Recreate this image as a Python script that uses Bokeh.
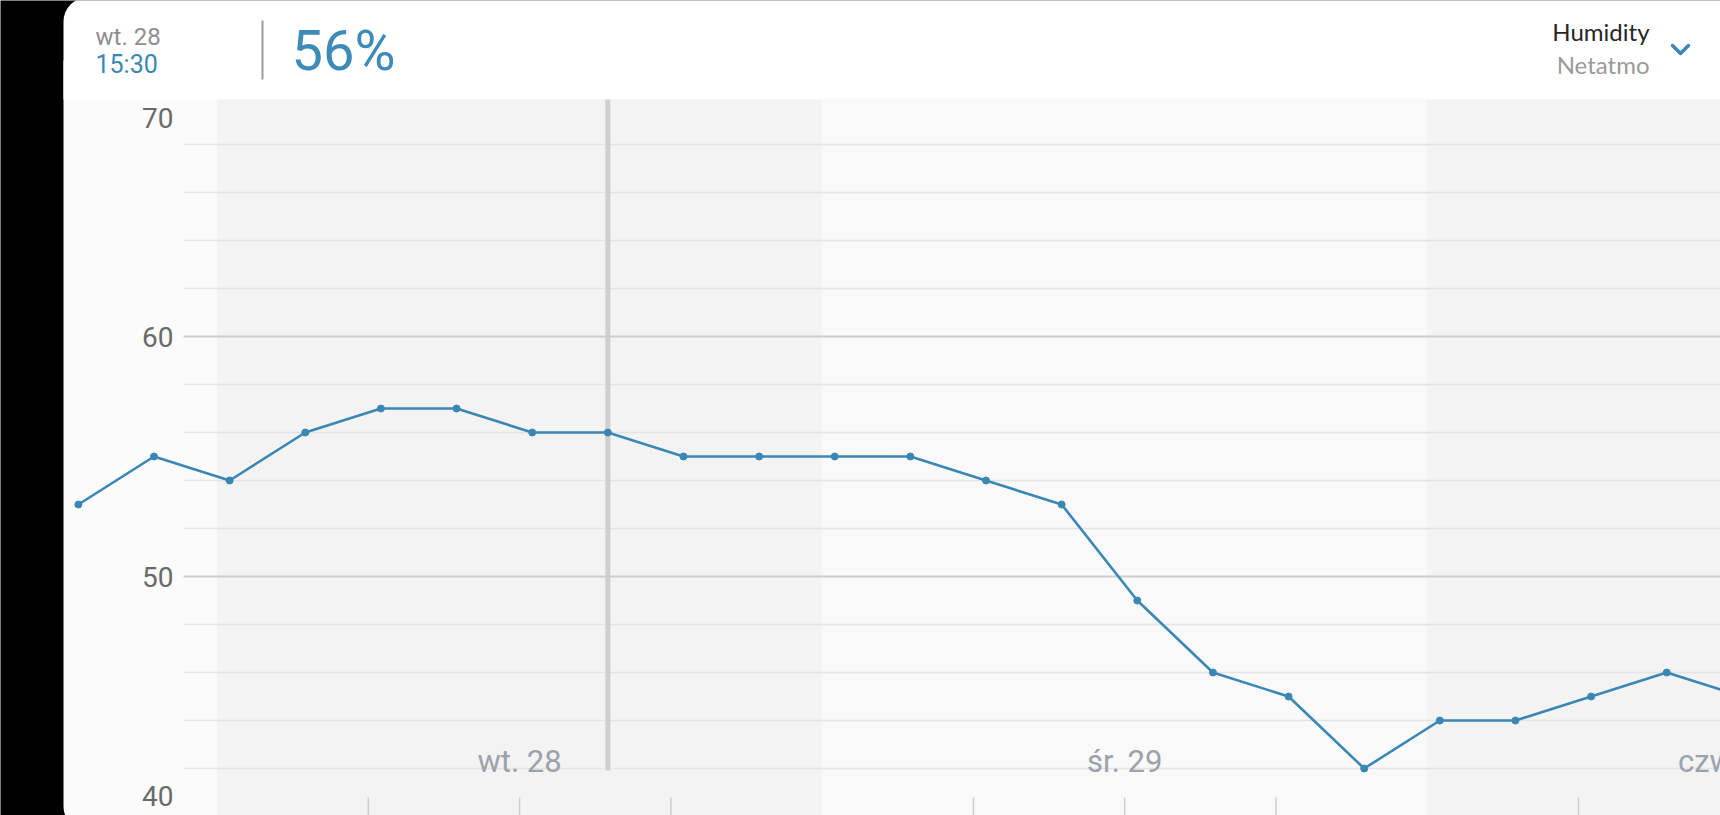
from bokeh.plotting import figure
from bokeh.models import Range1d
from bokeh.embed import file_html
from bokeh.resources import INLINE
from bokeh.core.properties import value

# ---------------- data ----------------
# hours since Tuesday (wt. 28) 00:00
hours = [-5.5, -2.5, 0.5, 3.5, 6.5, 9.5, 12.5, 15.5, 18.5, 21.5, 24.5, 27.5,
         30.5, 33.5, 36.5, 39.5, 42.5, 45.5, 48.5, 51.5, 54.5, 57.5, 60.5]
humidity = [53, 55, 54, 56, 57, 57, 56, 56, 55, 55, 55, 55,
            54, 53, 49, 46, 45, 42, 44, 44, 45, 46, 45]
selected_index = 7
header_day = "wt. 28"
header_time = "15:30"
header_value = "56%"
metric_name = "Humidity"
source_name = "Netatmo"

day_labels = ["wt. 28", "śr. 29", "czw. 30"]
day_centers = [12, 36, 60]
band_starts = [0, 24, 48]
band_ends = [24, 48, 72]
band_colors = ["#f3f3f3", "#f9f9f9", "#f3f3f3"]
hour_ticks = [6, 12, 18, 30, 36, 42, 54, 60, 66]
y_tick_values = [70, 60, 50, 40]
y_tick_labels = ["70", "60", "50", "40"]
minor_grid = [42, 44, 46, 48, 52, 54, 56, 58, 62, 64, 66, 68]
major_grid = [50, 60]

# ---------------- styling ----------------
BLUE = "#3a87b4"
W = 1720
H = 815
FONT = value("Roboto")


def ry(y):
    # reference pixel row -> upward coordinate used by the pixel ranges
    return H - y


px_per_hour = 25.212
t0_px = 216.55
t_left = (0 - t0_px) / px_per_hour
t_right = (W - t0_px) / px_per_hour
v_top = 40 + 816 / 24.0
v_bot = 40 + (816 - 815) / 24.0

p = figure(width=W, height=H, x_range=Range1d(t_left, t_right), y_range=Range1d(v_bot, v_top),
           min_border=0, toolbar_location=None, output_backend="svg",
           x_axis_location=None, y_axis_location=None,
           background_fill_color="black", border_fill_color="black", outline_line_color=None)
p.grid.visible = False
p.extra_x_ranges = {"px": Range1d(0, W)}
p.extra_y_ranges = {"py": Range1d(0, H)}

# ---------------- card + header ----------------
p.quad(left=[63], right=[1800], bottom=[ry(830)], top=[ry(60)], fill_color="#fbfbfb",
       line_color=None, border_radius=(0, 0, 0, 24), x_range_name="px", y_range_name="py")
p.quad(left=[63], right=[1800], bottom=[ry(99)], top=[ry(-3)], fill_color="white",
       line_color=None, border_radius=(24, 0, 0, 0), x_range_name="px", y_range_name="py")

p.text(x=[95], y=[ry(45)], y_offset=-9, text=[header_day], text_font=FONT, text_font_size="24px",
       text_color="#8e8e8e", text_baseline="alphabetic", text_align="left",
       x_range_name="px", y_range_name="py")
p.text(x=[95], y=[ry(73)], y_offset=-9, text=[header_time], text_font=FONT, text_font_size="25px",
       text_color=BLUE, text_baseline="alphabetic", text_align="left",
       x_range_name="px", y_range_name="py")
p.segment(x0=[262], x1=[262], y0=[ry(20)], y1=[ry(79)], line_color="#9e9e9e", line_width=2,
          x_range_name="px", y_range_name="py")
p.text(x=[291], y=[ry(71)], y_offset=-21, text=[header_value], text_font=FONT,
       text_font_size="56px", text_color="#3f8bb8", text_baseline="alphabetic", text_align="left",
       x_range_name="px", y_range_name="py")
p.text(x=[1649], y=[ry(40)], y_offset=-9, text=[metric_name], text_font=value("Lato"),
       text_font_size="24px", text_color="#262626", text_baseline="alphabetic", text_align="right",
       x_range_name="px", y_range_name="py")
p.text(x=[1649], y=[ry(74)], y_offset=-10, text=[source_name], text_font=value("Lato"),
       text_font_size="24px", text_color="#9a9a9a", text_baseline="alphabetic", text_align="right",
       x_range_name="px", y_range_name="py")
p.line(x=[1672, 1680, 1688], y=[ry(45), ry(53), ry(45)], line_color=BLUE, line_width=3.5,
       line_cap="round", line_join="round", x_range_name="px", y_range_name="py")

# ---------------- chart ----------------
# day bands
p.quad(left=band_starts, right=band_ends, bottom=ry(830), top=ry(99), fill_color=band_colors,
       line_color=None, y_range_name="py")
# grid lines
p.segment(x0=183, x1=1800, y0=minor_grid, y1=minor_grid, line_color="#e4e4e4",
          line_width=1.6, x_range_name="px")
p.segment(x0=183, x1=1800, y0=major_grid, y1=major_grid, line_color="#cdcdcd",
          line_width=1.8, x_range_name="px")
# selection cursor
sel_t = hours[selected_index]
p.segment(x0=[sel_t], x1=[sel_t], y0=[ry(770)], y1=[ry(99)], line_color="#cfcfcf",
          line_width=5, y_range_name="py")
# hour ticks
p.segment(x0=hour_ticks, x1=hour_ticks, y0=ry(797), y1=ry(830), line_color="#cfcfcf",
          line_width=1.5, y_range_name="py")
# day labels
p.text(x=day_centers, y=ry(773), y_offset=-12, text=day_labels, text_font=FONT,
       text_font_size="31px", text_color="#9aa2aa", text_align="center",
       text_baseline="alphabetic", y_range_name="py")
# y labels
p.text(x=173, y=y_tick_values, text=y_tick_labels, y_offset=[21.5, 0.5, 0.5, -20.5],
       text_font=FONT, text_font_size="28px", text_color="#6a6a6a",
       text_align="right", text_baseline="alphabetic", x_range_name="px")
# data
p.line(x=hours, y=humidity, line_color=BLUE, line_width=2.6)
p.scatter(x=hours, y=humidity, size=7, fill_color=BLUE, line_color=BLUE)

open("out.html", "w").write(file_html(p, INLINE))
